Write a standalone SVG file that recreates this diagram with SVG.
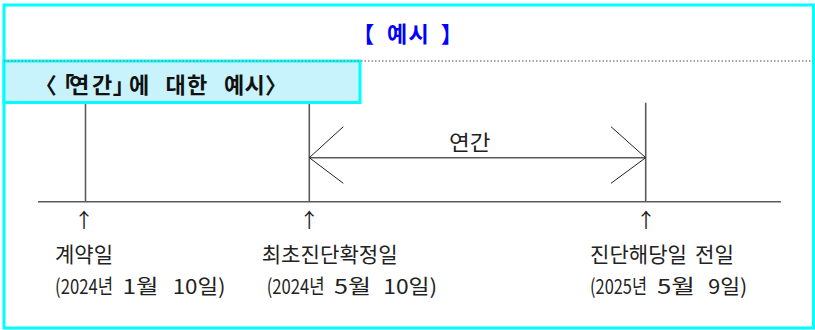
<svg xmlns="http://www.w3.org/2000/svg" width="815" height="330" viewBox="0 0 815 330">
<style>
text{font-family:"Noto Sans CJK KR","Noto Sans",sans-serif}
.t{font-size:21px;fill:#222}
.d{font-size:20.5px;fill:#222}
.b{font-size:22px;font-weight:bold;fill:#111}
.h{font-size:22px;font-weight:bold;fill:#0000ff}
.ar{font-size:20px;fill:#222}
.ln{stroke:#5a5a5a;stroke-width:1.6;fill:none}
.ah{stroke:#222;stroke-width:1;fill:none}
</style>
<rect x="0" y="0" width="815" height="330" fill="#fff"/>
<g id="frame">
<rect x="4" y="5" width="809.5" height="323" fill="none" stroke="#00ffff" stroke-width="3"/>
<text class="h" x="352.2 374 387 408.5 430 440.8" y="41.5">【 예시 】</text>
</g>
<g id="label-box">
<rect x="4" y="61" width="356" height="41.5" fill="#c8f2fc" stroke="#00ffff" stroke-width="3"/>
<line x1="4" y1="61" x2="813" y2="61" stroke="#888" stroke-width="1.5" stroke-dasharray="1.5 2"/>
<text class="b" x="34.8 52.3 69 92 112.8 120 129 155 165.5 187 210 224 244.5 265" y="92.5">〈「연간」 에 대한 예시〉</text>
</g>
<g id="connectors">
<line class="ln" x1="38" y1="201.8" x2="781" y2="201.8"/>
<line class="ln" x1="85.5" y1="104" x2="85.5" y2="201.8"/>
<line class="ln" x1="309.3" y1="104" x2="309.3" y2="201.8"/>
<line class="ln" x1="645.7" y1="102.7" x2="645.7" y2="201.8"/>
<line class="ln" x1="309.3" y1="157.7" x2="645.7" y2="157.7" style="stroke-width:1.4"/>
<polyline class="ah" points="343.3,126.7 309.3,157.7 343.3,183.3"/>
<polyline class="ah" points="611,126.7 645.7,157.7 611,183.3"/>
</g>
<g id="period-label">
<text class="t" x="449" y="150" textLength="41.5" lengthAdjust="spacingAndGlyphs">연간</text>
</g>
<g id="node-contract">
<text class="ar" x="84" y="228" text-anchor="middle">↑</text>
<text class="t" x="55" y="261.5" textLength="58" lengthAdjust="spacingAndGlyphs">계약일</text>
<text class="d" y="293.5"><tspan x="55" textLength="58" lengthAdjust="spacingAndGlyphs">(2024년</tspan> <tspan x="122.5" textLength="36" lengthAdjust="spacingAndGlyphs">1월</tspan> <tspan x="172.7" textLength="53" lengthAdjust="spacingAndGlyphs">10일)</tspan></text>
</g>
<g id="node-diagnosis">
<text class="ar" x="309.3" y="228" text-anchor="middle">↑</text>
<text class="t" x="261.7" y="261.5" textLength="136" lengthAdjust="spacingAndGlyphs">최초진단확정일</text>
<text class="d" y="293.5"><tspan x="266.7" textLength="58" lengthAdjust="spacingAndGlyphs">(2024년</tspan> <tspan x="334" textLength="37" lengthAdjust="spacingAndGlyphs">5월</tspan> <tspan x="383.3" textLength="54" lengthAdjust="spacingAndGlyphs">10일)</tspan></text>
</g>
<g id="node-end">
<text class="ar" x="646" y="228" text-anchor="middle">↑</text>
<text class="t" y="261.5"><tspan x="590" textLength="97" lengthAdjust="spacingAndGlyphs">진단해당일</tspan> <tspan x="695" textLength="39" lengthAdjust="spacingAndGlyphs">전일</tspan></text>
<text class="d" y="293.5"><tspan x="590" textLength="57" lengthAdjust="spacingAndGlyphs">(2025년</tspan> <tspan x="657" textLength="38" lengthAdjust="spacingAndGlyphs">5월</tspan> <tspan x="708.3" textLength="39" lengthAdjust="spacingAndGlyphs">9일)</tspan></text>
</g>
</svg>
